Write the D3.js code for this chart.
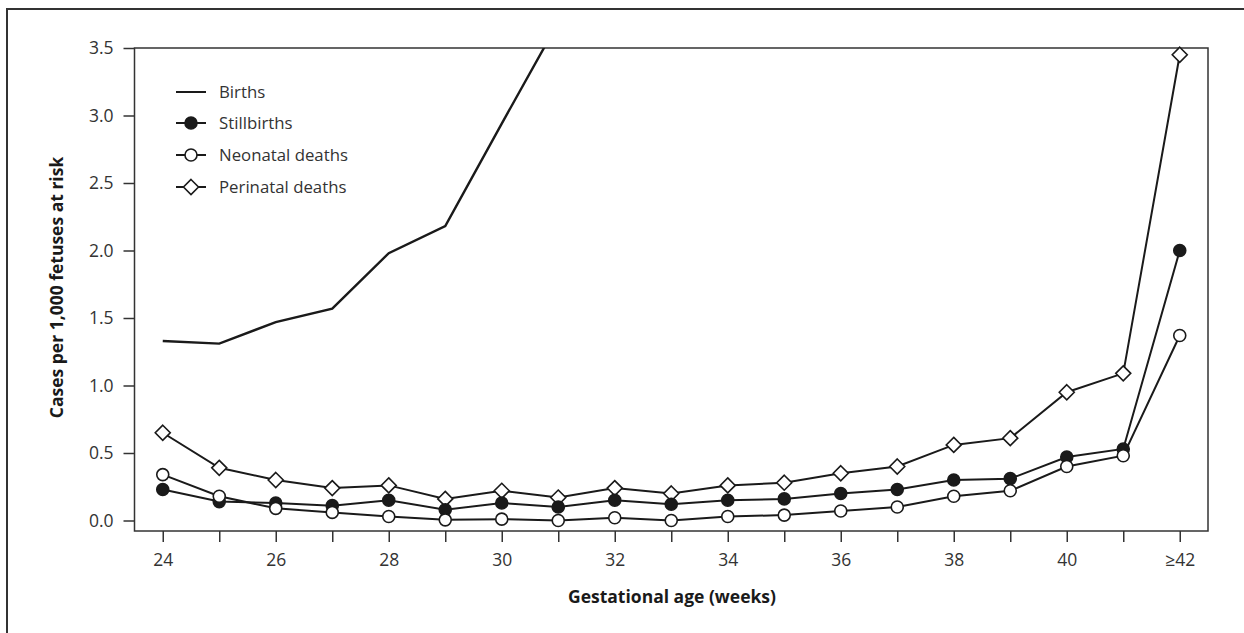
<!DOCTYPE html>
<meta charset="utf-8">
<head>
<style>
body { margin: 0; background: #fff; }
svg text { font-family: "Open Sans", "Noto Sans", sans-serif; fill: #333; }
.frame { fill: none; stroke: #333; stroke-width: 1.5px; }
.tick line { stroke: #333; stroke-width: 1.5px; }
.series { fill: none; stroke: #1a1a1a; stroke-width: 2px; }
.title { font-weight: bold; fill: #1a1a1a; font-size: 17.5px; }
</style>
</head>
<body>
<script src="https://d3js.org/d3.v7.min.js"></script>
<script>

// gestational age categories (weeks)
var weeks = ["24","25","26","27","28","29","30","31","32","33","34","35","36","37","38","39","40","41","≥42"];

// cases per 1,000 fetuses at risk (births leave the chart after 31 weeks)
var births      = [1.33, 1.31, 1.47, 1.57, 1.98, 2.18, 2.94, 3.69];
var stillbirths = [0.23, 0.14, 0.13, 0.11, 0.15, 0.08, 0.13, 0.10, 0.15, 0.12, 0.15, 0.16, 0.20, 0.23, 0.30, 0.31, 0.47, 0.53, 2.00];
var neonatal    = [0.34, 0.18, 0.09, 0.06, 0.03, 0.005, 0.01, 0.0, 0.02, 0.0, 0.03, 0.04, 0.07, 0.10, 0.18, 0.22, 0.40, 0.48, 1.37];
var perinatal   = [0.65, 0.39, 0.30, 0.24, 0.26, 0.16, 0.22, 0.17, 0.24, 0.20, 0.26, 0.28, 0.35, 0.40, 0.56, 0.61, 0.95, 1.09, 3.45];

var yTicks = [0, 0.5, 1.0, 1.5, 2.0, 2.5, 3.0, 3.5];
var xTickWeeks = ["24","26","28","30","32","34","36","38","40","≥42"];

var legendNames = ["Births", "Stillbirths", "Neonatal deaths", "Perinatal deaths"];

var W = 1244, H = 633;
var frame = {left: 134.5, right: 1208, top: 48, bottom: 531};

var svg = d3.select("body").append("svg")
    .attr("width", W)
    .attr("height", H);

// outer border (only top and left are visible)
svg.append("path")
    .attr("d", "M7," + (H + 5) + "V9H" + (W + 5))
    .attr("fill", "none")
    .attr("stroke", "#333")
    .attr("stroke-width", 2);

// scales
var x = d3.scalePoint()
    .domain(weeks)
    .range([frame.left, frame.right])
    .padding(0.5);

var y = d3.scaleLinear()
    .domain([0, 3.5])
    .range([520.5, frame.top]);

// clip for the births line
svg.append("clipPath").attr("id", "clip")
  .append("rect")
    .attr("x", frame.left)
    .attr("y", frame.top)
    .attr("width", frame.right - frame.left)
    .attr("height", frame.bottom - frame.top);

// plot frame
svg.append("rect")
    .attr("class", "frame")
    .attr("x", frame.left)
    .attr("y", frame.top)
    .attr("width", frame.right - frame.left)
    .attr("height", frame.bottom - frame.top);

// x axis
var xAxis = svg.append("g")
    .attr("transform", "translate(0," + frame.bottom + ")")
    .call(d3.axisBottom(x).tickSizeInner(11).tickSizeOuter(0).tickFormat(function(d) {
        return xTickWeeks.indexOf(d) >= 0 ? d : "";
    }));
xAxis.select(".domain").remove();
xAxis.selectAll("text")
    .attr("font-size", 17.5)
    .attr("dy", 0)
    .attr("y", 35);

// y axis
var yAxis = svg.append("g")
    .attr("transform", "translate(" + frame.left + ",0)")
    .call(d3.axisLeft(y).tickValues(yTicks).tickSizeInner(11).tickSizeOuter(0).tickFormat(d3.format(".1f")));
yAxis.select(".domain").remove();
yAxis.selectAll("text")
    .attr("font-size", 17.5)
    .attr("x", -21);

svg.selectAll(".tick text").attr("font-family", null).attr("fill", "#333");

// axis titles
svg.append("text")
    .attr("class", "title")
    .attr("x", 672)
    .attr("y", 603)
    .attr("text-anchor", "middle")
    .text("Gestational age (weeks)");

svg.append("text")
    .attr("class", "title")
    .attr("transform", "translate(63," + 287.5 + ") rotate(-90)")
    .attr("text-anchor", "middle")
    .text("Cases per 1,000 fetuses at risk");

// lines
var line = d3.line()
    .x(function(d, i) { return x(weeks[i]); })
    .y(function(d) { return y(d); });

svg.append("path")
    .datum(births)
    .attr("class", "series")
    .attr("clip-path", "url(#clip)")
    .style("stroke-width", "2.4px")
    .attr("d", line);

function diamond(s) {
    return "M0," + (-s) + "L" + s + ",0L0," + s + "L" + (-s) + ",0Z";
}

function drawMarkers(data, kind) {
    var g = svg.append("g");
    var pts = g.selectAll(".pt").data(data).enter();
    if (kind === "diamond") {
        pts.append("path")
            .attr("transform", function(d, i) { return "translate(" + x(weeks[i]) + "," + y(d) + ")"; })
            .attr("d", diamond(7.5))
            .attr("fill", "#fff")
            .attr("stroke", "#1a1a1a")
            .attr("stroke-width", 1.6);
    } else {
        pts.append("circle")
            .attr("cx", function(d, i) { return x(weeks[i]); })
            .attr("cy", function(d) { return y(d); })
            .attr("r", 6)
            .attr("fill", kind === "filled" ? "#1a1a1a" : "#fff")
            .attr("stroke", "#1a1a1a")
            .attr("stroke-width", 1.6);
    }
}

[[perinatal, "diamond"], [stillbirths, "filled"], [neonatal, "open"]].forEach(function(s) {
    svg.append("path")
        .datum(s[0])
        .attr("class", "series")
        .attr("d", line);
});
drawMarkers(perinatal, "diamond");
drawMarkers(stillbirths, "filled");
drawMarkers(neonatal, "open");

// legend
var legend = svg.append("g");
var legendY = [92, 123, 155, 187];
legendNames.forEach(function(name, i) {
    var ly = legendY[i];
    legend.append("line")
        .attr("x1", 176).attr("x2", 206)
        .attr("y1", ly).attr("y2", ly)
        .attr("stroke", "#1a1a1a")
        .attr("stroke-width", 2);
    if (i === 1 || i === 2) {
        legend.append("circle")
            .attr("cx", 191).attr("cy", ly).attr("r", 6)
            .attr("fill", i === 1 ? "#1a1a1a" : "#fff")
            .attr("stroke", "#1a1a1a").attr("stroke-width", 1.6);
    } else if (i === 3) {
        legend.append("path")
            .attr("transform", "translate(191," + ly + ")")
            .attr("d", diamond(7.5))
            .attr("fill", "#fff")
            .attr("stroke", "#1a1a1a").attr("stroke-width", 1.6);
    }
    legend.append("text")
        .attr("x", 219)
        .attr("y", ly)
        .attr("dy", "0.35em")
        .attr("font-size", 16.8)
        .text(name);
});

</script>
</body>
